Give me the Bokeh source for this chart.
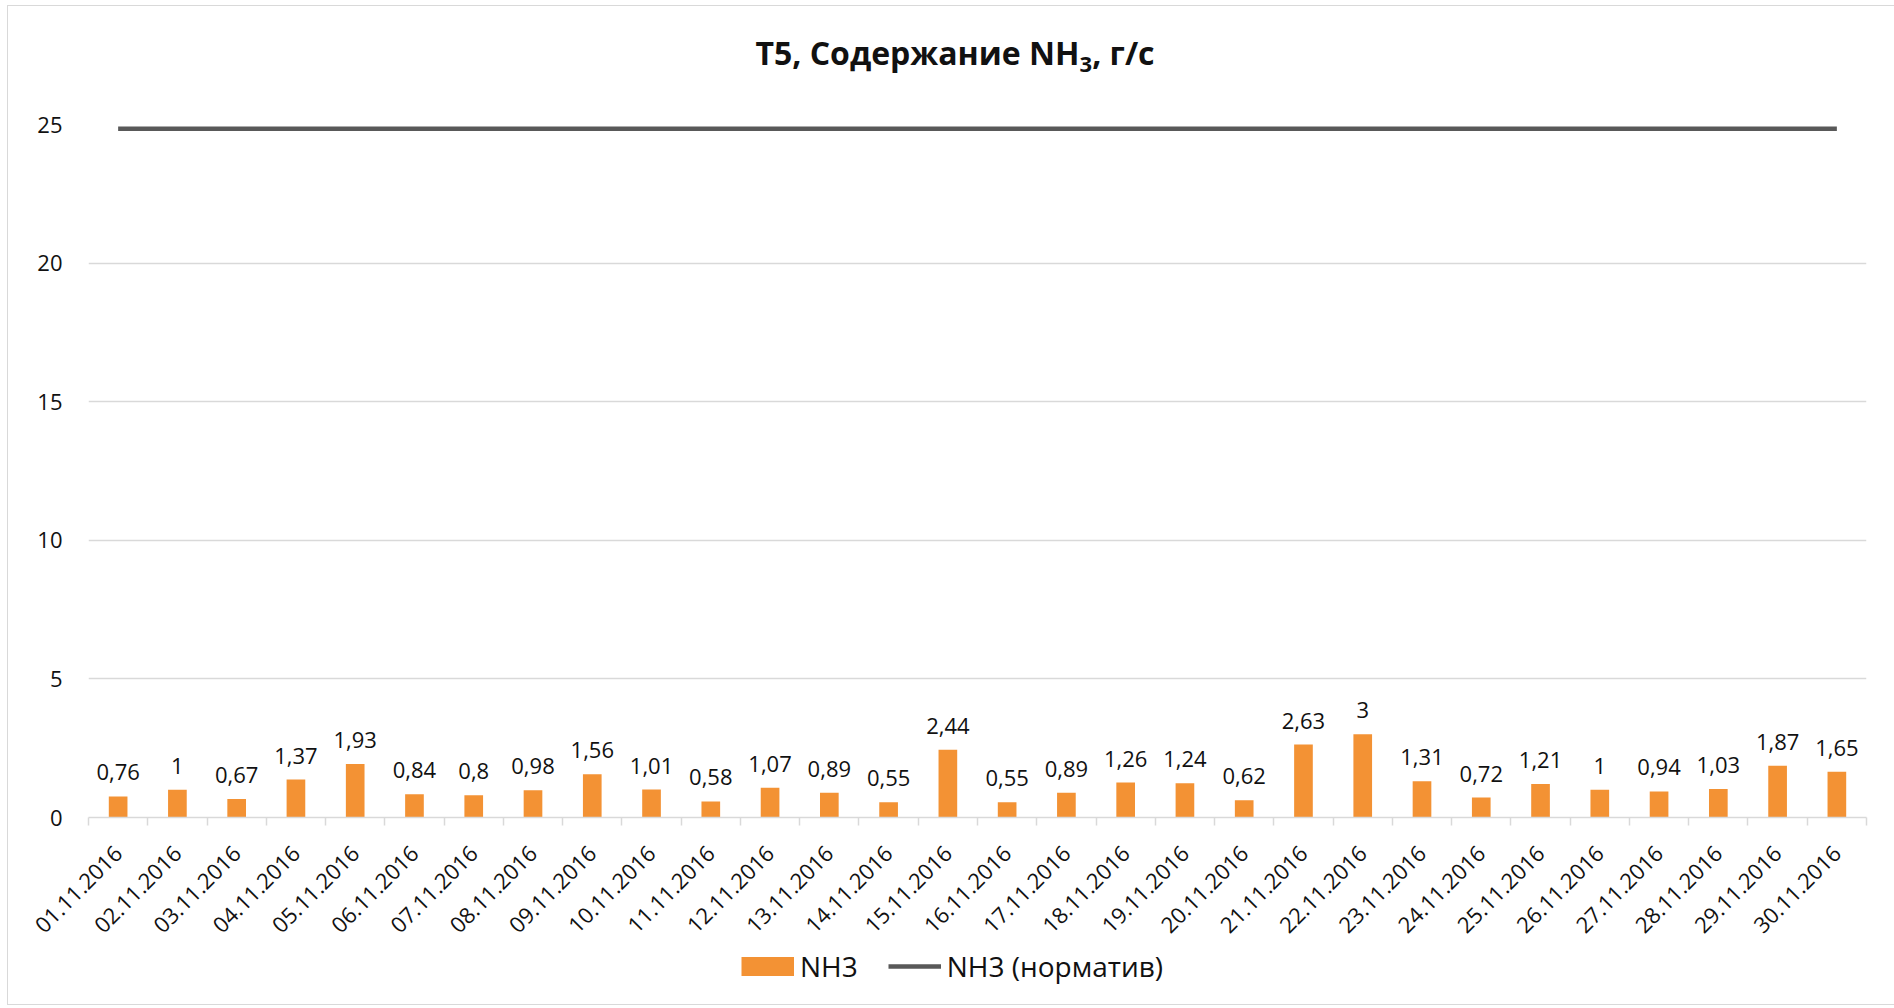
from bokeh.plotting import figure
from bokeh.models import FixedTicker, Legend, LegendItem, ColumnDataSource, Div
from bokeh.layouts import column
from bokeh.core.properties import value
from bokeh.embed import file_html
from bokeh.resources import INLINE
import math

dates = ["01.11.2016", "02.11.2016", "03.11.2016", "04.11.2016", "05.11.2016",
         "06.11.2016", "07.11.2016", "08.11.2016", "09.11.2016", "10.11.2016",
         "11.11.2016", "12.11.2016", "13.11.2016", "14.11.2016", "15.11.2016",
         "16.11.2016", "17.11.2016", "18.11.2016", "19.11.2016", "20.11.2016",
         "21.11.2016", "22.11.2016", "23.11.2016", "24.11.2016", "25.11.2016",
         "26.11.2016", "27.11.2016", "28.11.2016", "29.11.2016", "30.11.2016"]
nh3 = [0.76, 1, 0.67, 1.37, 1.93, 0.84, 0.8, 0.98, 1.56, 1.01,
       0.58, 1.07, 0.89, 0.55, 2.44, 0.55, 0.89, 1.26, 1.24, 0.62,
       2.63, 3, 1.31, 0.72, 1.21, 1, 0.94, 1.03, 1.87, 1.65]
norm_value = 24.85
norm = [norm_value] * len(dates)
y_ticks = [0, 5, 10, 15, 20, 25]

FONT = "Open Sans"
TXT = "#111111"
GRID = "#d9d9d9"
BAR = "#f39234"
NORM = "#595959"
W = 1884

xs = list(range(1, len(dates) + 1))
labels = [("%g" % v).replace(".", ",") for v in nh3]
src = ColumnDataSource(dict(x=xs, nh3=nh3, norm=norm, lab=labels))

# title
title = Div(text=('<div style="margin:0;padding-top:20px;width:%dpx;text-align:center;'
                  'font-family:\'Open Sans\';font-weight:bold;font-size:32px;'
                  'line-height:normal;color:%s;white-space:nowrap;">'
                  'T5, Содержание NH<sub style="font-size:22px">3</sub>, г/с</div>') % (W, TXT),
            width=W, height=88)

p = figure(width=W, height=843, output_backend="svg", toolbar_location=None,
           x_range=(0.5, len(dates) + 0.5), y_range=(0, 25),
           min_border_left=80, min_border_right=26, min_border_top=20,
           min_border_bottom=130, outline_line_color=None)

bars = p.vbar(x="x", top="nh3", width=0.315, source=src, fill_color=BAR,
              line_color=None)
line = p.line(x="x", y="norm", source=src, line_color=NORM, line_width=4.5)
p.text(x="x", y="nh3", text="lab", source=src, y_offset=-24,
       text_align="center", text_baseline="alphabetic",
       text_font=value(FONT), text_font_size="22px", text_color=TXT)

# axes
p.xaxis.ticker = FixedTicker(ticks=xs, minor_ticks=[i + 0.5 for i in range(len(dates) + 1)])
p.xaxis.major_label_overrides = {x: d for x, d in zip(xs, dates)}
p.xaxis.major_label_orientation = math.pi / 4
p.xaxis.major_tick_line_color = None
p.xaxis.minor_tick_line_color = GRID
p.xaxis.minor_tick_line_width = 1.5
p.xaxis.minor_tick_out = 8
p.xaxis.minor_tick_in = 0
p.xaxis.axis_line_color = GRID
p.xaxis.axis_line_width = 1.5
p.xaxis.major_label_standoff = 24
p.xaxis.major_label_text_font = FONT
p.xaxis.major_label_text_font_size = "22px"
p.xaxis.major_label_text_color = TXT

p.yaxis.ticker = FixedTicker(ticks=y_ticks)
p.yaxis.axis_line_color = None
p.yaxis.major_tick_line_color = None
p.yaxis.minor_tick_line_color = None
p.yaxis.major_label_standoff = 20
p.yaxis.major_label_text_font = FONT
p.yaxis.major_label_text_font_size = "22px"
p.yaxis.major_label_text_color = TXT

p.xgrid.grid_line_color = None
p.ygrid.grid_line_color = GRID
p.ygrid.grid_line_width = 1.5

# legend strip below the chart
q = figure(width=W, height=57, output_backend="svg", toolbar_location=None,
           x_range=(0, 1), y_range=(0, 1), x_axis_type=None, y_axis_type=None,
           min_border_left=80, min_border_right=26, min_border_top=0,
           min_border_bottom=0, outline_line_color=None)
q.xgrid.visible = False
q.ygrid.visible = False
sw_bar = q.line(x=[float("nan")], y=[float("nan")], line_color=BAR,
                line_width=19, line_cap="butt")
sw_line = q.line(x=[float("nan")], y=[float("nan")], line_color=NORM,
                 line_width=4.5)
leg = Legend(items=[LegendItem(label="NH3", renderers=[sw_bar]),
                    LegendItem(label="NH3 (норматив)", renderers=[sw_line])],
             orientation="horizontal", padding=0, margin=0, spacing=30,
             border_line_color=None, background_fill_alpha=0,
             label_text_font=FONT, label_text_font_size="28px",
             label_text_color=TXT, label_standoff=6, label_height=38,
             glyph_width=53, glyph_height=38, location=(653, 19))
q.add_layout(leg, "center")

layout = column(title, p, q, spacing=0,
                styles={"border": "1px solid #d9d9d9", "margin": "5px 0 0 7px"})

open("out.html", "w").write(file_html(layout, INLINE))
